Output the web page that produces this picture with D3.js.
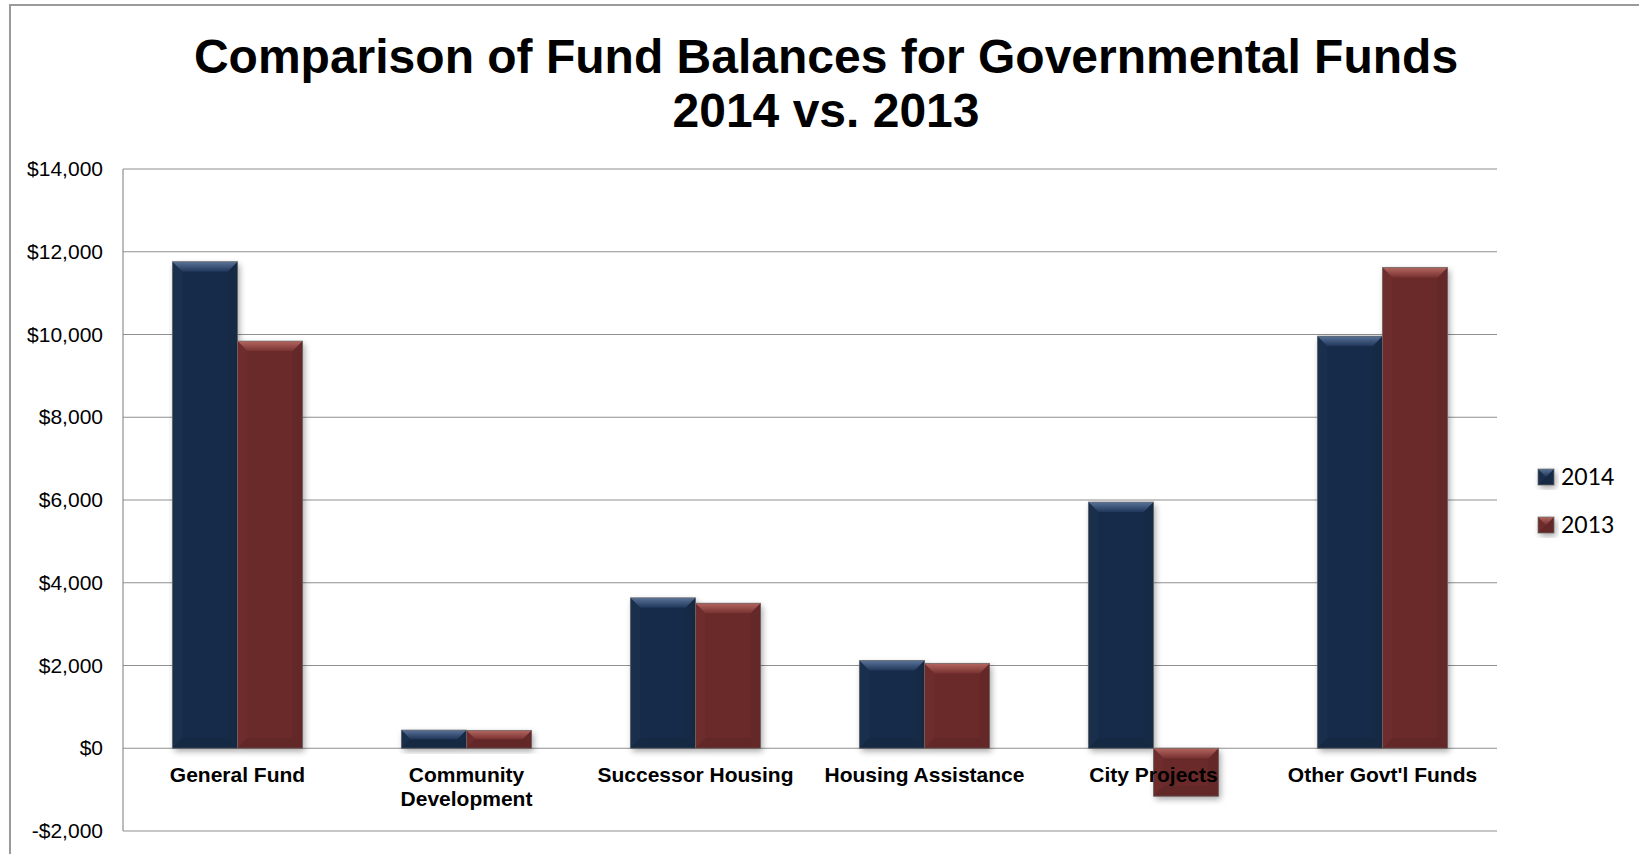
<!DOCTYPE html>
<html>
<head>
<meta charset="utf-8">
<script src="https://cdn.jsdelivr.net/npm/d3@7/dist/d3.min.js"></script>
<style>
  html, body { margin: 0; padding: 0; background: #ffffff; }
  svg { display: block; }
</style>
</head>
<body>
<svg id="chart" width="1639" height="854"></svg>
<script>
// Fund balances (thousands of dollars)
const categories = ["General Fund", "Community Development", "Successor Housing", "Housing Assistance", "City Projects", "Other Govt'l Funds"];
const seriesNames = ["2014", "2013"];
const values2014 = [11760, 440, 3635, 2120, 5950, 9960];
const values2013 = [9840, 430, 3505, 2050, -1160, 11620];
const yTicks = [-2000, 0, 2000, 4000, 6000, 8000, 10000, 12000, 14000];
const titleLines = ["Comparison of Fund Balances for Governmental Funds", "2014 vs. 2013"];

const seriesValues = { "2014": values2014, "2013": values2013 };
const palette = {
  "2014": { base: "#182c48", top0: "#5a7398", top1: "#20375a", left: "#1a2f4c", right: "#162a45", bottom: "#162942" },
  "2013": { base: "#6a2a2a", top0: "#b4665f", top1: "#783231", left: "#6e2c2c", right: "#652828", bottom: "#622727" }
};

const svg = d3.select("#chart");
const W = 1639, H = 854;
const plot = { left: 123, right: 1497, top: 169, bottom: 831 };

// frame
svg.append("path")
  .attr("d", `M10,${H + 5} L10,5 L${W + 5},5`)
  .attr("fill", "none").attr("stroke", "#9a9a9a").attr("stroke-width", 2);

// defs: shadow + bevel gradients
const defs = svg.append("defs");
const f = defs.append("filter").attr("id", "shadow")
  .attr("x", "-20%").attr("y", "-20%").attr("width", "150%").attr("height", "150%");
f.append("feDropShadow").attr("dx", 2).attr("dy", 3).attr("stdDeviation", 3)
  .attr("flood-color", "#000").attr("flood-opacity", 0.35);

seriesNames.forEach(s => {
  const g = defs.append("linearGradient").attr("id", "top-" + s)
    .attr("x1", 0).attr("y1", 0).attr("x2", 0).attr("y2", 1);
  g.append("stop").attr("offset", "0%").attr("stop-color", palette[s].top0);
  g.append("stop").attr("offset", "100%").attr("stop-color", palette[s].top1);
});

// title
const title = svg.append("text")
  .attr("x", 826).attr("text-anchor", "middle")
  .attr("font-family", "'Liberation Sans', Arial, sans-serif")
  .attr("font-weight", "bold").attr("font-size", 48).attr("fill", "#000");
titleLines.forEach((t, i) => {
  title.append("tspan").attr("x", 826).attr("y", 73 + i * 54).text(t);
});

// scales
const x = d3.scaleBand().domain(categories)
  .range([plot.left, plot.right]).paddingInner(0.432).paddingOuter(0.216);
const xs = d3.scaleBand().domain(seriesNames).range([0, x.bandwidth()]);
const y = d3.scaleLinear().domain([-2000, 14000]).range([plot.bottom, plot.top]);

const fmt = v => (v < 0 ? "-" : "") + "$" + d3.format(",")(Math.abs(v));

// gridlines
svg.append("g").selectAll("line").data(yTicks).join("line")
  .attr("x1", plot.left).attr("x2", plot.right)
  .attr("y1", d => y(d)).attr("y2", d => y(d))
  .attr("stroke", "#8f8f8f").attr("stroke-width", 1.2);

// y axis line + labels
svg.append("line")
  .attr("x1", plot.left).attr("x2", plot.left)
  .attr("y1", plot.top).attr("y2", plot.bottom)
  .attr("stroke", "#8f8f8f").attr("stroke-width", 1.2);

const yAxis = d3.axisLeft(y).tickValues(yTicks).tickFormat(fmt).tickSize(0).tickPadding(20);
const yg = svg.append("g").attr("transform", `translate(${plot.left},0)`).call(yAxis);
yg.select(".domain").remove();
yg.selectAll("text")
  .attr("font-family", "'Liberation Sans', Arial, sans-serif")
  .attr("font-size", 21).attr("fill", "#000");

// bevelled bar
function bevelBar(g, bx, by, bw, bh, s) {
  const p = palette[s];
  const b = Math.min(10, bh / 2, bw / 2);
  g.append("rect").attr("x", bx).attr("y", by).attr("width", bw).attr("height", bh)
    .attr("fill", p.base).attr("filter", "url(#shadow)");
  g.append("path").attr("d", `M${bx},${by} L${bx + b},${by + b} L${bx + b},${by + bh - b} L${bx},${by + bh} Z`)
    .attr("fill", p.left);
  g.append("path").attr("d", `M${bx + bw},${by} L${bx + bw - b},${by + b} L${bx + bw - b},${by + bh - b} L${bx + bw},${by + bh} Z`)
    .attr("fill", p.right);
  g.append("path").attr("d", `M${bx},${by + bh} L${bx + b},${by + bh - b} L${bx + bw - b},${by + bh - b} L${bx + bw},${by + bh} Z`)
    .attr("fill", p.bottom);
  g.append("path").attr("d", `M${bx},${by} L${bx + bw},${by} L${bx + bw - b},${by + b} L${bx + b},${by + b} Z`)
    .attr("fill", `url(#top-${s})`);
  g.append("rect").attr("x", bx).attr("y", by).attr("width", bw).attr("height", bh)
    .attr("fill", "none").attr("stroke", "rgba(110,110,110,0.7)").attr("stroke-width", 1);
}

const barsG = svg.append("g");
categories.forEach((c, i) => {
  seriesNames.forEach(s => {
    const v = seriesValues[s][i];
    const bx = x(c) + xs(s);
    const y0 = y(Math.max(0, v)), y1 = y(Math.min(0, v));
    bevelBar(barsG.append("g"), bx, y0, xs.bandwidth(), y1 - y0, s);
  });
});

// category labels, wrapped when wider than one band step
const labelG = svg.append("g")
  .attr("font-family", "'Liberation Sans', Arial, sans-serif")
  .attr("font-weight", "bold").attr("font-size", 21).attr("fill", "#000")
  .attr("text-anchor", "middle");
categories.forEach(c => {
  const cx = x(c) + x.bandwidth() / 2;
  const t = labelG.append("text").attr("x", cx).attr("y", 782).text(c);
  if (t.node().getComputedTextLength() > x.step()) {
    const words = c.split(" ");
    t.text(null);
    words.forEach((w, k) => t.append("tspan").attr("x", cx).attr("y", 782 + k * 24).text(w));
  }
});

// legend
const legend = svg.append("g");
seriesNames.forEach((s, i) => {
  const ly = 469 + i * 48;
  bevelBar(legend.append("g"), 1538, ly, 16, 16, s);
  legend.append("text").attr("x", 1561).attr("y", ly + 16)
    .attr("font-family", "Lato, 'Liberation Sans', sans-serif")
    .attr("font-size", 23).attr("fill", "#000").text(s);
});
</script>
</body>
</html>
